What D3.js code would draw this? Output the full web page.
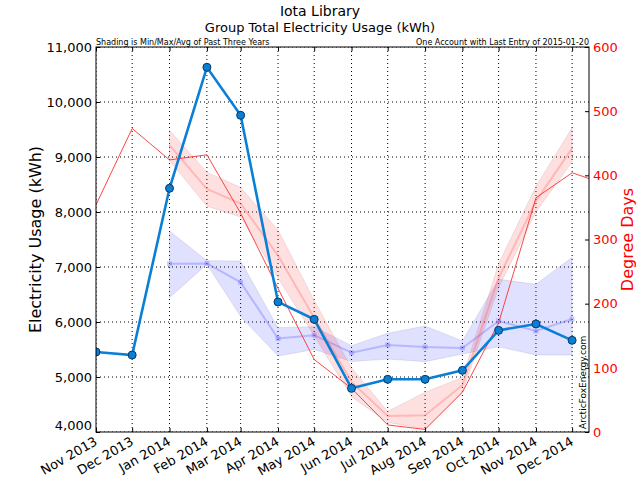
<!DOCTYPE html>
<html><head><meta charset="utf-8">
<script src="https://cdn.jsdelivr.net/npm/d3@7"></script>
<style>body{margin:0;background:#fff}text{font-family:"DejaVu Sans",sans-serif}</style>
</head><body><svg id="c" width="640" height="480"></svg>
<script>
const months = ["2013-11","2013-12","2014-01","2014-02","2014-03","2014-04","2014-05","2014-06","2014-07","2014-08","2014-09","2014-10","2014-11","2014-12"];
const usage = [5455,5400,8431,10631,9758,6364,6048,4794,4958,4958,5121,5848,5964,5667];
const histMonths = ["2014-01","2014-02","2014-03","2014-04","2014-05","2014-06","2014-07","2014-08","2014-09","2014-10","2014-11","2014-12"];
const usageMin = [6442,7050,6100,5382,5500,5280,5327,5279,5418,5550,5400,5400];
const usageAvg = [7060,7065,6721,5700,5760,5442,5582,5545,5527,6018,5836,6054];
const usageMax = [7655,7115,7110,5897,5915,5570,5794,5927,5655,6776,6685,7176];
const ddMonths = ["2013-11","2013-12","2014-01","2014-02","2014-03","2014-04","2014-05","2014-06","2014-07","2014-08","2014-09","2014-10","2014-11","2014-12","2015-01"];
const degreeDays = [354,473,424,432,341,224,113,68,11,4,62,170,365,404,384];
const ddMin = [423,352,335,240,150,55,15,5,62,225,343,421];
const ddAvg = [447,379,356,275,178,78,25,26,73,240,360,442];
const ddMax = [470,405,381,315,205,100,32,62,85,262,383,474];
const xTickLabels = ["Nov 2013","Dec 2013","Jan 2014","Feb 2014","Mar 2014","Apr 2014","May 2014","Jun 2014","Jul 2014","Aug 2014","Sep 2014","Oct 2014","Nov 2014","Dec 2014"];
const leftTicks = [4000,5000,6000,7000,8000,9000,10000,11000];
const rightTicks = [0,100,200,300,400,500,600];

const P = d => { const [y,m] = d.split("-").map(Number); return new Date(y, m-1, 1); };
const L=96, R=589, T=47, B=432;
const svg = d3.select("#c");
const x = d3.scaleTime().domain([new Date(2013,10,1), new Date(2014,11,15)]).range([L,R]);
const yL = d3.scaleLinear().domain([4000,11000]).range([B,T]);
const yR = d3.scaleLinear().domain([0,600]).range([B,T]);

svg.append("defs").append("clipPath").attr("id","clip").append("rect").attr("x",L).attr("y",T).attr("width",R-L).attr("height",B-T);
const g = svg.append("g").attr("clip-path","url(#clip)");

// grid
months.forEach(m => g.append("line").attr("x1",x(P(m))).attr("x2",x(P(m))).attr("y1",T).attr("y2",B)
  .attr("stroke","#000").attr("stroke-width",1).attr("stroke-dasharray","1,3"));
leftTicks.forEach(v => g.append("line").attr("x1",L).attr("x2",R).attr("y1",yL(v)).attr("y2",yL(v))
  .attr("stroke","#000").attr("stroke-width",1).attr("stroke-dasharray","1,3"));

// blue band
const hd = histMonths.map((m,i)=>({d:P(m),mn:usageMin[i],av:usageAvg[i],mx:usageMax[i]}));
g.append("path").datum(hd).attr("d", d3.area().x(d=>x(d.d)).y0(d=>yL(d.mn)).y1(d=>yL(d.mx)))
  .attr("fill","rgba(0,0,255,0.12)").attr("stroke","rgba(120,120,160,0.18)");
g.append("path").datum(hd).attr("d", d3.line().x(d=>x(d.d)).y(d=>yL(d.av)))
  .attr("fill","none").attr("stroke","rgba(90,90,255,0.3)").attr("stroke-width",2);
g.selectAll(".bsq").data(hd).enter().append("rect").attr("x",d=>x(d.d)-2.5).attr("y",d=>yL(d.av)-2.5)
  .attr("width",5).attr("height",5).attr("fill","rgba(90,90,255,0.3)");

// red band
const rd = histMonths.map((m,i)=>({d:P(m),mn:ddMin[i],av:ddAvg[i],mx:ddMax[i]}));
g.append("path").datum(rd).attr("d", d3.area().x(d=>x(d.d)).y0(d=>yR(d.mn)).y1(d=>yR(d.mx)))
  .attr("fill","rgba(255,0,0,0.12)").attr("stroke","rgba(160,120,120,0.18)");
g.append("path").datum(rd).attr("d", d3.line().x(d=>x(d.d)).y(d=>yR(d.av)))
  .attr("fill","none").attr("stroke","rgba(255,90,90,0.3)").attr("stroke-width",2);

// degree days line
const dd = ddMonths.map((m,i)=>({d:P(m),v:degreeDays[i]}));
g.append("path").datum(dd).attr("d", d3.line().x(d=>x(d.d)).y(d=>yR(d.v)))
  .attr("fill","none").attr("stroke","#ff3030").attr("stroke-width",0.9);

// usage line
const ud = months.map((m,i)=>({d:P(m),v:usage[i]}));
g.append("path").datum(ud).attr("d", d3.line().x(d=>x(d.d)).y(d=>yL(d.v)))
  .attr("fill","none").attr("stroke","#0a7fd6").attr("stroke-width",2.6);
g.selectAll(".dot").data(ud).enter().append("circle").attr("cx",d=>x(d.d)).attr("cy",d=>yL(d.v))
  .attr("r",4).attr("fill","#0a7fd6").attr("stroke","#063a66").attr("stroke-width",1);

// watermark
svg.append("text").attr("transform",`translate(586,${B-3}) rotate(-90)`).attr("font-size",9).attr("fill","#000").text("ArcticFoxEnergy.com");

// frame
svg.append("rect").attr("x",L).attr("y",T).attr("width",R-L).attr("height",B-T).attr("fill","none").attr("stroke","#000").attr("stroke-width",1);

// axes
const axB = svg.append("g").attr("transform",`translate(0,${B})`)
  .call(d3.axisBottom(x).tickValues(months.map(P)).tickFormat((d,i)=>xTickLabels[i]).tickSizeInner(-4).tickSizeOuter(0));
axB.select(".domain").remove();
axB.selectAll("text").attr("font-size",13).attr("font-family","DejaVu Sans").attr("fill","#000")
  .attr("text-anchor","end").attr("dy",0).attr("transform","translate(0,13) rotate(-30)").attr("y",0).attr("x",2);
const axT = svg.append("g").attr("transform",`translate(0,${T})`)
  .call(d3.axisTop(x).tickValues(months.map(P)).tickFormat("").tickSizeInner(-4).tickSizeOuter(0));
axT.select(".domain").remove();

const axL = svg.append("g").attr("transform",`translate(${L},0)`)
  .call(d3.axisLeft(yL).tickValues(leftTicks).tickFormat(d3.format(",")).tickSizeInner(-4).tickSizeOuter(0).tickPadding(4));
axL.select(".domain").remove();
axL.selectAll("text").attr("font-size",13).attr("font-family","DejaVu Sans").attr("fill","#000");
axL.selectAll("text").filter(d=>d===4000).attr("dy","-0.2em");

const axR = svg.append("g").attr("transform",`translate(${R},0)`)
  .call(d3.axisRight(yR).tickValues(rightTicks).tickSizeInner(-4).tickSizeOuter(0).tickPadding(4));
axR.select(".domain").remove();
axR.selectAll("text").attr("font-size",13).attr("font-family","DejaVu Sans").attr("fill","#ff0000");
svg.selectAll(".tick line").attr("stroke","#000");

// titles
svg.append("text").attr("x",320).attr("y",16).attr("text-anchor","middle").attr("font-size",14).text("Iota Library");
svg.append("text").attr("x",320).attr("y",32).attr("text-anchor","middle").attr("font-size",13).text("Group Total Electricity Usage (kWh)");
svg.append("text").attr("x",L).attr("y",45).attr("font-size",8).text("Shading is Min/Max/Avg of Past Three Years");
svg.append("text").attr("x",R).attr("y",45).attr("text-anchor","end").attr("font-size",8).text("One Account with Last Entry of 2015-01-20");
svg.append("text").attr("transform",`translate(41,${(T+B)/2}) rotate(-90)`).attr("text-anchor","middle").attr("font-size",16).text("Electricity Usage (kWh)");
svg.append("text").attr("transform",`translate(633,${(T+B)/2}) rotate(-90)`).attr("text-anchor","middle").attr("font-size",16).attr("fill","#ff0000").text("Degree Days");
</script></body></html>
